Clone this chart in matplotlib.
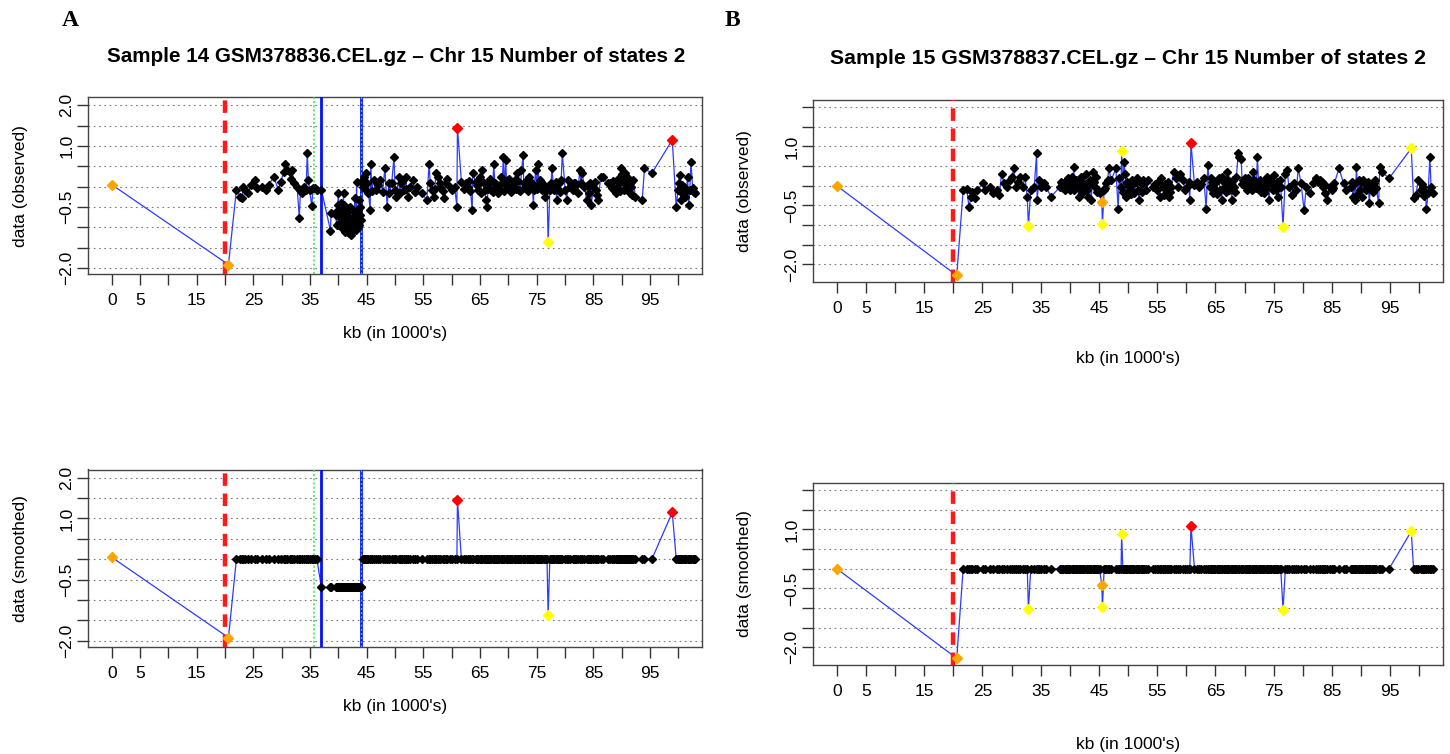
import numpy as np
import matplotlib
matplotlib.use("Agg")
import matplotlib.pyplot as plt

plt.rcParams['font.family'] = ['Liberation Sans', 'DejaVu Sans']
plt.rcParams['lines.scale_dashes'] = False

# ---------------- Sample 14 (panel A) ----------------
A_kb = [22.0, 22.7, 23.0, 23.2, 23.6, 24.1, 24.5, 25.3, 25.7, 26.5, 27.3, 27.7, 28.6, 29.4, 29.8,
        30.4, 30.6, 31.0, 31.4, 31.7, 31.8, 32.2, 32.7, 33.1, 33.3, 33.6, 33.9, 34.3, 34.5, 34.7,
        34.9, 35.3, 35.5, 35.9, 36.2,
        37.0, 38.6, 38.7, 39.5, 39.7, 40.0, 40.2, 40.4, 40.6, 40.8, 40.9, 41.0, 41.2, 41.3, 41.5,
        41.6, 41.8, 41.9, 42.1, 42.3, 42.4, 42.5, 42.6, 42.8, 42.9, 43.0, 43.1, 43.2, 43.3, 43.5,
        43.6, 43.7, 43.8, 43.9, 43.95,
        44.3, 44.5, 44.9, 45.3, 45.6, 45.7, 46.2, 46.6, 47.4, 48.2, 48.6, 49.0, 49.4, 49.8, 50.0,
        50.2, 50.7, 50.8, 51.1, 51.5, 51.9, 52.3, 52.7, 53.1, 53.9, 54.7, 55.6, 56.0, 56.2, 56.5,
        56.8, 57.2, 57.6, 58.0, 58.7, 59.2, 59.7, 60.1, 60.5, 60.9,
        61.7, 62.5, 62.9, 63.6, 63.7, 64.2, 64.6, 65.0, 65.4, 65.8, 66.0, 66.2, 66.6, 67.0, 67.4,
        67.8, 68.2, 68.7, 69.1, 69.5, 69.9, 70.3, 70.7, 71.1, 71.5, 71.9, 72.3, 72.6, 72.7, 73.2,
        73.6, 74.0, 74.4, 74.5, 74.8, 75.2, 75.6, 76.0, 76.4, 76.8,
        77.3, 77.7, 78.1, 78.5, 78.9, 79.3, 79.5, 80.0, 80.3, 80.5, 80.9, 81.3, 81.8, 82.2, 82.6,
        83.0, 83.4, 83.8, 84.2, 84.6, 85.0, 85.4, 85.8, 86.3, 86.7, 87.5, 88.3, 88.7, 89.1, 89.5,
        89.8, 90.1, 90.3, 90.6, 90.9, 91.2, 91.4, 91.7, 92.0, 92.4, 93.6, 94.0, 95.3,
        99.6, 99.9, 100.2, 100.4, 100.7, 101.0, 101.2, 101.6, 101.8, 102.0, 102.2, 102.5, 102.8, 103.0]
A_obs = [-0.07, -0.25, -0.29, 0.00, -0.08, -0.16, 0.04, 0.16, -0.04, 0.00, -0.08, 0.04, 0.25, -0.08, 0.12,
         0.37, 0.57, 0.41, 0.37, 0.20, 0.41, 0.08, 0.00, -0.76, -0.08, -0.16, 0.00, -0.08, 0.84, 0.16,
         -0.08, -0.48, -0.04, -0.04, -0.08,
         -0.08, -1.08, -0.64, -0.70, -0.95, -0.15, -0.55, -0.41, -0.86, -0.57, -0.16, -0.98, -1.11, -0.75, -0.66,
         -0.74, -1.15, -0.90, -0.49, -1.19, -0.80, -0.90, -0.74, -1.05, -0.29, -0.62, -1.07, 0.12, -0.82, -0.57,
         -0.95, -0.33, -0.70, -0.82, 0.12,
         0.00, 0.25, 0.33, -0.16, -0.57, 0.57, 0.16, -0.08, 0.16, 0.45, -0.49, -0.16, 0.08, 0.74, -0.08,
         -0.25, 0.25, -0.16, 0.08, -0.08, 0.25, -0.25, 0.00, 0.16, 0.00, -0.16, -0.33, 0.57, 0.08, -0.08,
         -0.25, 0.33, 0.25, 0.00, -0.29, 0.20, 0.00, -0.08, 0.00, -0.49,
         0.12, 0.08, 0.00, -0.57, 0.33, 0.12, -0.08, 0.25, 0.41, -0.08, -0.33, -0.49, 0.08, -0.08, 0.57,
         0.00, -0.16, 0.25, 0.74, 0.66, 0.16, 0.00, -0.08, 0.16, 0.33, -0.08, 0.41, 0.78, 0.08, 0.16,
         0.25, 0.00, -0.45, -0.08, 0.41, 0.57, 0.16, -0.08, -0.25, 0.00,
         -0.08, 0.45, -0.08, -0.33, 0.08, 0.16, 0.82, -0.08, -0.33, 0.16, 0.00, -0.08, 0.08, -0.16, 0.41,
         0.33, 0.00, -0.33, -0.16, -0.45, 0.00, -0.08, -0.33, 0.25, 0.25, 0.08, -0.04, -0.08, 0.00, 0.08,
         0.45, 0.16, -0.08, 0.33, 0.25, 0.08, -0.16, 0.00, 0.16, -0.25, -0.33, 0.45, 0.33,
         -0.49, -0.08, 0.29, -0.33, -0.16, 0.00, -0.25, 0.25, -0.45, -0.08, 0.61, -0.04, -0.12, -0.16]
# additional probes in the densely packed stretches
A_kb_dense = [39.8, 39.9, 40.1, 40.3, 40.5, 40.7, 41.05, 41.1, 41.4, 41.7, 42.0, 42.2, 42.45, 42.7, 43.05,
              43.4, 43.65, 43.85,
              44.7, 45.0, 45.9, 47.0, 47.8, 48.9, 51.3, 52.0, 53.5, 57.0, 57.9, 58.4, 59.0, 62.2, 63.0,
              63.3, 64.4, 65.2, 65.6, 66.4, 66.8, 67.2, 67.6, 68.0, 68.4, 68.9, 69.3, 69.7, 70.1, 70.5,
              70.9, 71.3, 71.7, 72.1, 72.9, 73.4, 73.8, 74.2, 75.0, 75.4, 75.8, 76.2, 76.6, 77.5, 77.9,
              78.3, 78.7, 79.1, 81.5, 82.0, 82.8, 84.0, 84.4, 85.2, 85.6, 88.0, 88.5, 88.9, 89.3, 89.65,
              89.95, 90.45, 90.75, 91.05, 91.55, 91.85, 100.05, 100.55, 101.4]
A_obs_dense = [-0.60, -0.45, -0.90, -0.75, -1.00, -0.65, -0.45, -0.85, -1.00, -0.55, -0.80, -0.95, -1.10,
               -0.60, -0.85, -1.00, -0.70, -0.50,
               -0.05, 0.10, -0.10, 0.05, -0.12, 0.10, 0.12, -0.05, -0.12, -0.05, 0.10, -0.10, 0.08,
               -0.05, 0.15, -0.10, 0.05, -0.15, 0.10, -0.05, 0.18, -0.12, 0.10, 0.05, -0.05, 0.10,
               -0.10, 0.05, 0.20, -0.12, 0.08, -0.05, 0.15, -0.10, 0.00, -0.10, 0.12, 0.08, -0.05,
               0.05, 0.12, 0.05, -0.10, 0.10, 0.05, 0.12, -0.05, -0.12, 0.10, 0.05, 0.10, 0.05, 0.10,
               0.12, -0.20, 0.10, 0.15, -0.15, 0.20, -0.10, 0.30, 0.10, -0.05, 0.20, 0.12, -0.20,
               0.10, 0.05, -0.10]
# smoothed (state) levels: segments split at these kb positions
A_seg_breaks = [36.6, 44.1]
A_seg_levels = [0.00, -0.69, 0.00]
# highlighted probes (same value in observed and smoothed)
A_out_kb = [0.0, 20.6, 61.0, 77.0, 98.9]
A_out_val = [0.05, -1.92, 1.45, -1.36, 1.15]
A_out_col = ['#FFA500', '#FFA500', '#FF0000', '#FFFF00', '#FF0000']
A_blue_lines = [36.9, 44.0]
A_green_lines = [35.7, 44.0]

# ---------------- Sample 15 (panel B) ----------------
B_kb = [21.7, 22.3, 22.7, 23.1, 23.3, 23.7, 24.1, 25.1, 25.5, 26.3, 26.9, 27.5, 27.9, 28.3, 28.7,
        29.3, 29.7, 30.1, 30.4, 30.7, 31.1, 31.5, 31.9, 32.3, 32.7,
        33.3, 33.9, 34.3, 34.4, 34.7, 35.1, 35.5, 35.9, 36.8, 38.3, 38.7, 39.1, 39.5, 39.9, 40.3,
        40.7, 40.8, 41.1, 41.5, 41.6, 41.9, 42.1, 42.3, 42.7, 42.9, 43.1, 43.5, 43.7, 43.9, 44.3,
        44.5, 44.8, 45.1,
        45.9, 46.3, 46.7, 47.1, 47.9, 48.3, 48.5, 48.8,
        49.1, 49.3, 49.5, 49.6, 49.9, 50.3, 50.7, 51.1, 51.5, 51.9, 52.2, 52.6, 53.0, 53.4, 54.3,
        55.0, 55.4, 55.7, 56.0, 56.2, 56.6, 57.0, 57.4, 57.8, 58.2, 58.6, 59.0, 59.4, 59.8, 60.2, 60.6,
        61.4, 62.2, 63.0, 63.4, 63.7, 64.0, 64.2, 64.6, 65.0, 65.4, 65.8, 66.1, 66.2, 66.6, 67.0,
        67.4, 67.8, 68.2, 68.6, 68.9, 69.1, 69.4, 69.8, 70.2, 70.6, 71.0, 71.4, 71.8, 72.2, 72.6,
        73.0, 73.4, 73.8, 74.2, 74.6, 75.0, 75.4, 75.8, 76.2,
        77.0, 77.3, 77.6, 78.1, 78.4, 78.9, 79.2, 79.7, 80.2, 80.6, 81.2, 81.8, 82.2, 82.6, 83.0,
        83.4, 83.8, 84.2, 84.6, 85.0, 85.4, 86.2, 87.0, 87.4, 88.2, 88.6, 89.0, 89.2, 89.6, 89.8,
        90.2, 90.6, 91.0, 91.4, 91.8, 92.2, 92.6, 93.0, 93.2, 93.5, 94.8,
        99.0, 99.4, 99.8, 100.2, 100.6, 101.0, 101.2, 101.5, 101.8, 102.0, 102.3]
B_obs = [-0.11, -0.09, -0.53, -0.28, -0.15, -0.32, -0.11, 0.06, -0.11, -0.03, -0.19, -0.11, -0.24, 0.31, 0.06,
         -0.03, 0.14, 0.23, 0.44, -0.03, 0.10, 0.23, -0.03, 0.23, -0.28,
         -0.11, -0.03, 0.82, -0.36, 0.14, -0.03, 0.06, -0.03, -0.28, -0.03, 0.06, -0.11, 0.14, -0.03, 0.23,
         0.48, -0.11, 0.14, -0.28, -0.03, 0.23, -0.19, 0.06, 0.31, -0.11, -0.28, 0.14, -0.36, 0.36, -0.03,
         0.23, -0.11, -0.19,
         -0.11, 0.06, 0.44, 0.14, 0.44, -0.58, 0.19, -0.03,
         -0.15, 0.61, 0.31, -0.28, 0.06, -0.11, 0.14, -0.19, 0.19, -0.36, 0.06, 0.14, -0.11, 0.14, -0.03,
         -0.11, -0.28, 0.19, -0.03, -0.24, -0.11, -0.28, -0.03, 0.36, 0.19, -0.03, 0.31, 0.14, -0.11, -0.03, -0.36,
         0.02, -0.03, 0.19, -0.58, 0.53, -0.03, 0.19, -0.19, 0.06, 0.14, -0.11, -0.36, 0.23, -0.03, 0.36,
         -0.11, -0.36, -0.03, 0.23, 0.82, 0.74, 0.69, 0.14, -0.03, 0.19, 0.06, 0.36, 0.06, 0.74, 0.14,
         -0.03, -0.19, 0.23, -0.36, 0.06, 0.27, -0.11, -0.28, -0.03,
         0.31, 0.40, -0.03, -0.24, 0.06, -0.11, 0.44, 0.06, -0.62, -0.03, -0.19, 0.06, 0.19, 0.10, 0.14,
         -0.03, -0.19, -0.36, -0.03, -0.11, 0.06, 0.44, 0.06, -0.11, -0.03, -0.28, -0.36, 0.48, 0.14, -0.11,
         -0.28, 0.06, -0.03, -0.45, -0.03, 0.06, -0.07, -0.45, 0.48, 0.36, 0.19,
         -0.32, -0.24, 0.14, -0.11, -0.03, -0.15, -0.59, -0.19, 0.74, -0.03, -0.19]
B_kb_dense = [38.5, 38.9, 39.3, 39.7, 40.1, 40.5, 41.3, 41.75, 42.5, 43.3, 44.1, 44.65, 46.1, 46.5, 49.75,
              50.1, 50.5, 50.9, 51.3, 51.7, 52.4, 52.8, 54.7, 55.2, 56.4, 56.8, 57.2, 60.4, 61.8, 62.6,
              64.4, 64.8, 65.2, 65.6, 66.4, 66.8, 67.2, 67.6, 68.0, 68.4, 69.6, 70.0, 70.4, 70.8, 71.2,
              71.6, 72.0, 72.4, 72.8, 73.2, 73.6, 74.0, 74.4, 74.8, 75.2, 75.6, 76.0, 83.2, 83.6, 85.2,
              88.4, 88.8, 89.4, 90.0, 90.4, 90.8, 91.2, 91.6, 92.0, 92.4, 100.4, 100.8]
B_obs_dense = [0.10, -0.05, 0.05, 0.20, -0.10, 0.10, 0.05, 0.15, -0.05, 0.05, 0.10, -0.15, -0.05, 0.15, 0.10,
               0.00, -0.20, 0.05, 0.10, -0.10, -0.15, 0.05, 0.05, 0.10, 0.05, 0.10, -0.15, 0.10, 0.10, 0.05,
               0.10, -0.05, -0.20, 0.20, 0.10, -0.15, 0.15, 0.05, 0.15, -0.15, 0.05, 0.20, -0.10, 0.10, -0.10,
               0.15, -0.05, 0.05, -0.15, 0.10, -0.05, 0.10, 0.15, -0.10, 0.05, 0.10, 0.15, 0.10, 0.05, -0.05,
               0.10, 0.05, -0.20, 0.10, 0.15, -0.10, 0.10, 0.05, -0.15, 0.15, 0.05, -0.25]
B_seg_breaks = []
B_seg_levels = [0.00]
B_out_kb = [0.0, 20.6, 32.9, 45.5, 45.6, 48.9, 60.8, 76.6, 98.6]
B_out_val = [0.00, -2.28, -1.03, -0.42, -0.98, 0.88, 1.08, -1.04, 0.95]
B_out_col = ['#FFA500', '#FFA500', '#FFFF00', '#FFA500', '#FFFF00', '#FFFF00', '#FF0000', '#FFFF00', '#FFFF00']

x_ticks = list(range(0, 101, 5))
x_tick_labels_shown = [0, 5, 15, 25, 35, 45, 55, 65, 75, 85, 95]
y_ticks = [-2.0, -1.5, -1.0, -0.5, 0.0, 0.5, 1.0, 1.5, 2.0]
A_y_labels_shown = [2.0, 1.0, -0.5, -2.0]
B_y_labels_shown = [1.0, -0.5, -2.0]

W, H = 1450, 754
fig = plt.figure(figsize=(W / 100, H / 100), dpi=100)


def smooth_values(kb, breaks, levels):
    idx = np.searchsorted(np.asarray(breaks), np.asarray(kb))
    return np.asarray(levels)[idx]


def fmt(v):
    s = f"{abs(v):.1f}"
    return ("\u2212" + s) if v < 0 else s


def panel(box, kb, vals, out_kb, out_val, out_col, xlim, ylim, ylab_shown, ylabel,
          xlabel_y, ylabel_x, blue=(), green=(), tick_pad_y=2, tick_pad_x=6):
    l, t, r, b = box
    ax = fig.add_axes([l / W, 1 - b / H, (r - l) / W, (b - t) / H])
    ax.set_xlim(*xlim)
    ax.set_ylim(*ylim)
    for y in y_ticks:
        ax.axhline(y, color='#7a7a7a', lw=0.8, ls=(0, (1.2, 2.6)), zorder=0)
    kb = np.asarray(kb, dtype=float)
    vals = np.asarray(vals, dtype=float)
    # connecting line through all probes in position order
    all_kb = np.concatenate([kb, out_kb])
    all_v = np.concatenate([vals, out_val])
    order = np.argsort(all_kb, kind='stable')
    ax.plot(all_kb[order], all_v[order], color='#2b3bff', lw=0.9, zorder=2)
    ax.axvline(20, color='#ff1a1a', lw=3.2, ls=(0, (9, 5.5)), zorder=3)
    for g in green:
        ax.axvline(g, color='#44e044', lw=1.1, ls=(0, (1.5, 1.5)), zorder=3)
    for bl in blue:
        ax.axvline(bl, color='#0010ff', lw=2.0, zorder=3)
    for g in green[1:]:
        ax.axvline(g, color='#44e044', lw=0.9, ls=(0, (1.5, 1.5)), zorder=3.5)
    ax.plot(kb, vals, ls='none', marker='D', ms=3.9, color='black', mec='black', zorder=4)
    for xk, yv, c in zip(out_kb, out_val, out_col):
        ax.plot([xk], [yv], ls='none', marker='D', ms=4.8, color=c, mec=c, zorder=5)
    ax.set_xticks(x_ticks)
    ax.set_xticklabels([str(v) if v in x_tick_labels_shown else '' for v in x_ticks], fontsize=12.5)
    ax.set_yticks(y_ticks)
    ax.set_yticklabels([fmt(v) if v in ylab_shown else '' for v in y_ticks], fontsize=12.5,
                       rotation=90, va='center')
    ax.tick_params(axis='both', length=8, width=1, color='#333333', direction='out')
    ax.tick_params(axis='y', pad=tick_pad_y)
    ax.tick_params(axis='x', pad=tick_pad_x)
    for s in ax.spines.values():
        s.set_color('#444444')
        s.set_linewidth(1.0)
    cx = (l + r) / 2
    fig.text(cx / W, 1 - xlabel_y / H, "kb (in 1000's)", ha='center', va='center', fontsize=12.5)
    fig.text(ylabel_x / W, 1 - (t + b) / 2 / H, ylabel, ha='center', va='center',
             rotation=90, fontsize=12.5)
    return ax


A_kb_all = A_kb + A_kb_dense
A_obs_all = A_obs + A_obs_dense
B_kb_all = B_kb + B_kb_dense
B_obs_all = B_obs + B_obs_dense
A_sm = smooth_values(A_kb_all, A_seg_breaks, A_seg_levels)
B_sm = smooth_values(B_kb_all, B_seg_breaks, B_seg_levels)

A_xlim = (-4.13, 104.2)
A_ylim = (-2.15, 2.2)
B_xlim = (-4.02, 104.0)
B_ylim = (-2.44, 2.18)

panel((88.3, 97.3, 702.3, 274.0), A_kb_all, A_obs_all, A_out_kb, A_out_val, A_out_col, A_xlim, A_ylim,
      A_y_labels_shown, 'data (observed)', 333, 21, blue=A_blue_lines, green=A_green_lines)
panel((88.3, 469.5, 702.3, 647.0), A_kb_all, A_sm, A_out_kb, A_out_val, A_out_col, A_xlim, A_ylim,
      A_y_labels_shown, 'data (smoothed)', 706, 21, blue=A_blue_lines, green=A_green_lines)
panel((813.3, 100.0, 1442.7, 281.7), B_kb_all, B_obs_all, B_out_kb, B_out_val, B_out_col, B_xlim, B_ylim,
      B_y_labels_shown, 'data (observed)', 358, 745)
panel((813.3, 483.0, 1442.7, 664.6), B_kb_all, B_sm, B_out_kb, B_out_val, B_out_col, B_xlim, B_ylim,
      B_y_labels_shown, 'data (smoothed)', 745, 745)

fig.text(396 / W, 1 - 56 / H, "Sample 14 GSM378836.CEL.gz \u2013 Chr 15 Number of states 2",
         ha='center', va='center', fontsize=14.9, fontweight='bold')
fig.text(1128 / W, 1 - 58 / H, "Sample 15 GSM378837.CEL.gz \u2013 Chr 15 Number of states 2",
         ha='center', va='center', fontsize=15.3, fontweight='bold')
fig.text(70 / W, 1 - 20 / H, "A", ha='center', va='center', fontsize=17, fontweight='bold',
         family=['Liberation Serif', 'DejaVu Serif'])
fig.text(732 / W, 1 - 20 / H, "B", ha='center', va='center', fontsize=17, fontweight='bold',
         family=['Liberation Serif', 'DejaVu Serif'])

fig.savefig('out.png', dpi=100)
